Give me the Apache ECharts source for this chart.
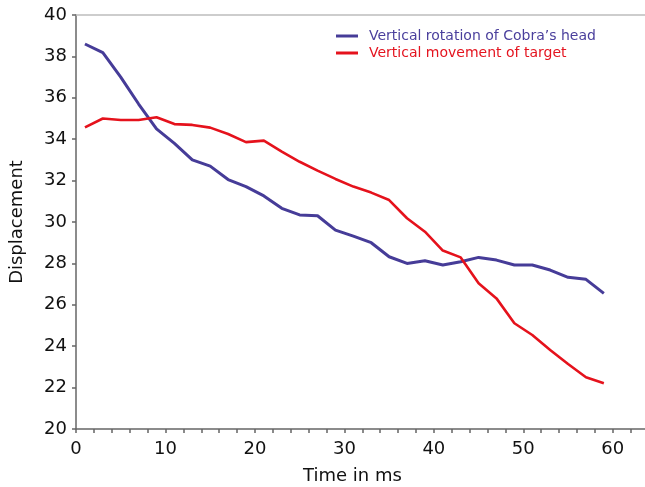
<!DOCTYPE html>
<html>
<head>
<meta charset="utf-8">
<script src="https://cdn.jsdelivr.net/npm/echarts@6/dist/echarts.min.js"></script>
<style>
  html, body { margin: 0; padding: 0; background: #fff; }
  #chart { width: 645px; height: 487px; }
</style>
</head>
<body>
<div id="chart"></div>
<script>
// Sample times (ms)
const times = [1, 3, 5, 7, 9, 11, 13, 15, 17, 19, 21, 23, 25, 27, 29, 31, 33, 35, 37, 39, 41, 43, 45, 47, 49, 51, 53, 55, 57, 59];

// Vertical rotation of the cobra's head
const headRotation = [38.6, 38.18, 37.0, 35.7, 34.5, 33.8, 33.0, 32.7, 32.05, 31.71, 31.26, 30.66, 30.34, 30.3, 29.61, 29.32, 29.0, 28.32, 28.0, 28.13, 27.92, 28.08, 28.29, 28.16, 27.92, 27.92, 27.68, 27.33, 27.23, 26.55];

// Vertical movement of the target
const targetMovement = [34.57, 35.0, 34.93, 34.93, 35.06, 34.73, 34.69, 34.56, 34.25, 33.86, 33.93, 33.4, 32.91, 32.48, 32.08, 31.71, 31.42, 31.06, 30.18, 29.53, 28.62, 28.29, 27.04, 26.31, 25.11, 24.54, 23.82, 23.14, 22.5, 22.21];

const seriesNames = ['Vertical rotation of Cobra\u2019s head', 'Vertical movement of target'];
const seriesColors = ['#463c98', '#e5121c'];
const textColors = ['#4a3f9c', '#e4141f'];

const font = 'DejaVu Sans, Verdana, sans-serif';

const chart = echarts.init(document.getElementById('chart'));

const pairs = arr => times.map((t, i) => [t, arr[i]]);

chart.setOption({
  animation: false,
  backgroundColor: '#ffffff',
  grid: { left: 76, top: 15, right: 0, height: 414, containLabel: false, outerBoundsMode: 'none' },
  legend: {
    orient: 'vertical',
    left: 331,
    top: 24,
    itemWidth: 22,
    itemHeight: 3,
    itemGap: 3,
    icon: 'rect',
    data: seriesNames.map((n, i) => ({ name: n, textStyle: { color: textColors[i] } })),
    textStyle: { fontFamily: font, fontSize: 14, padding: [0, 0, 0, 6] }
  },
  xAxis: [{
    type: 'value',
    min: 0,
    max: 63.6,
    interval: 2,
    name: 'Time in ms',
    nameLocation: 'middle',
    nameGap: 38,
    nameTextStyle: { fontFamily: font, fontSize: 18, color: '#111', padding: [0, 16, 0, 0] },
    axisLine: { show: true, onZero: false, lineStyle: { color: '#666', width: 1.5 } },
    axisTick: { show: true, inside: false, length: 4, lineStyle: { color: '#666', width: 1.5 } },
    axisLabel: {
      fontFamily: font, fontSize: 18, color: '#111', margin: 11,
      showMaxLabel: false,
      formatter: v => (v % 10 === 0 && v <= 60) ? String(v) : ''
    },
    splitLine: { show: false }
  }, {
    type: 'value',
    position: 'top',
    min: 0,
    max: 63.6,
    axisLine: { show: true, onZero: false, lineStyle: { color: '#bdbdbd', width: 1.5 } },
    axisTick: { show: false },
    axisLabel: { show: false },
    splitLine: { show: false }
  }],
  yAxis: {
    type: 'value',
    min: 20,
    max: 40,
    interval: 2,
    name: 'Displacement',
    nameLocation: 'middle',
    nameGap: 50,
    nameRotate: 90,
    nameTextStyle: { fontFamily: font, fontSize: 18, color: '#111' },
    axisLine: { show: true, onZero: false, lineStyle: { color: '#666', width: 1.5 } },
    axisTick: { show: true, inside: false, length: 4, lineStyle: { color: '#666', width: 1.5 } },
    axisLabel: { fontFamily: font, fontSize: 18, color: '#111', margin: 9 },
    splitLine: { show: false }
  },
  series: [
    {
      name: seriesNames[0],
      type: 'line',
      data: pairs(headRotation),
      symbol: 'none',
      color: seriesColors[0],
      lineStyle: { width: 3, color: seriesColors[0] }
    },
    {
      name: seriesNames[1],
      type: 'line',
      data: pairs(targetMovement),
      symbol: 'none',
      color: seriesColors[1],
      lineStyle: { width: 2.6, color: seriesColors[1] }
    }
  ]
});
</script>
</body>
</html>
